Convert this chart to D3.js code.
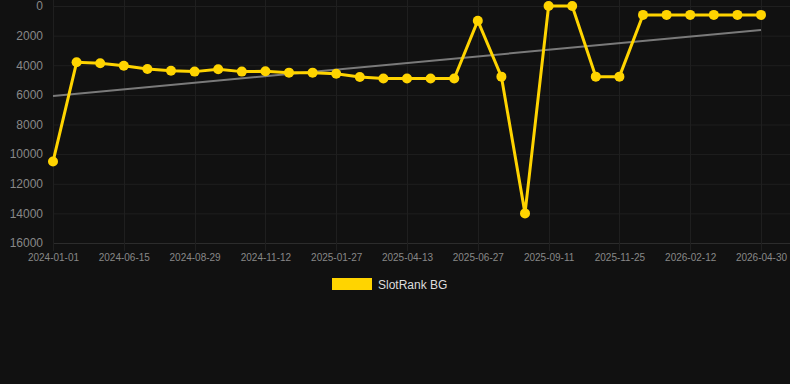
<!DOCTYPE html>
<html><head><meta charset="utf-8">
<script src="https://cdn.jsdelivr.net/npm/d3@7"></script>
<style>
html,body{margin:0;padding:0;background:#111111;}
svg{display:block;}
</style></head>
<body>
<svg id="chart" width="790" height="384"></svg>
<script>
const dates = ["2024-01-01","2024-05-16","2024-05-31","2024-06-15","2024-07-10","2024-08-04","2024-08-29","2024-09-23","2024-10-18","2024-11-12","2024-12-07","2025-01-02","2025-01-27","2025-02-21","2025-03-19","2025-04-13","2025-05-08","2025-06-02","2025-06-27","2025-07-22","2025-08-17","2025-09-11","2025-10-06","2025-10-31","2025-11-25","2025-12-21","2026-01-17","2026-02-12","2026-03-09","2026-04-04","2026-04-30"];
const rankValues = [10500,3800,3870,4030,4250,4370,4430,4270,4430,4410,4500,4500,4570,4790,4900,4900,4900,4900,990,4770,14000,0,0,4770,4770,600,600,600,600,600,600];
const trendValues = [6080,1620];
const yTicks = [0,2000,4000,6000,8000,10000,12000,14000,16000];
const seriesName = "SlotRank BG";

const svg = d3.select("#chart");
const mLeft = 53, mRight = 761, mTop = 6, mBottom = 243, gridRight = 790;
const x = d3.scalePoint().domain(dates).range([mLeft, mRight]);
const y = d3.scaleLinear().domain([0,16000]).range([mTop, mBottom]);
const tickDates = dates.filter((d,i)=> i % 3 === 0);
const font = "'Liberation Sans', Arial, Helvetica, sans-serif";

// grid
const grid = svg.append("g");
grid.selectAll(".hg").data(yTicks).join("line")
  .attr("x1", mLeft).attr("x2", gridRight)
  .attr("y1", d=>y(d)+0.5).attr("y2", d=>y(d)+0.5)
  .attr("stroke", d=> d===16000 ? "#2c2c2c" : "#1f1f1f").attr("stroke-width",1);
grid.selectAll(".vg").data(tickDates).join("line")
  .attr("x1", d=>Math.round(x(d))+0.5).attr("x2", d=>Math.round(x(d))+0.5)
  .attr("y1", 0).attr("y2", mBottom+8)
  .attr("stroke", "#1f1f1f").attr("stroke-width",1);

// y axis
const yAxis = d3.axisLeft(y).tickValues(yTicks).tickSize(0).tickPadding(10).tickFormat(d3.format("d"));
const ga = svg.append("g").attr("transform",`translate(${mLeft},0)`).call(yAxis);
ga.select(".domain").remove();
ga.selectAll("text").attr("fill","#888888").style("font-family",font).style("font-size","12px");

// x axis
const xAxis = d3.axisBottom(x).tickValues(tickDates).tickSize(0).tickPadding(11);
const gx = svg.append("g").attr("transform",`translate(0,${mBottom})`).call(xAxis);
gx.select(".domain").remove();
gx.selectAll("text").attr("fill","#888888").style("font-family",font).style("font-size","10px");

// trend line
svg.append("line")
  .attr("x1", x(dates[0])).attr("y1", y(trendValues[0]))
  .attr("x2", x(dates[dates.length-1])).attr("y2", y(trendValues[1]))
  .attr("stroke","#7a7a7a").attr("stroke-width",2);

// series line
const line = d3.line().x((d,i)=>x(dates[i])).y(d=>y(d));
svg.append("path").datum(rankValues)
  .attr("d", line).attr("fill","none")
  .attr("stroke","#ffd400").attr("stroke-width",3).attr("stroke-linejoin","miter");

svg.append("g").selectAll("circle").data(rankValues).join("circle")
  .attr("cx",(d,i)=>x(dates[i])).attr("cy",d=>y(d)).attr("r",5)
  .attr("fill","#ffd400");

// legend
const lg = svg.append("g");
lg.append("rect").attr("x",332).attr("y",278).attr("width",40).attr("height",12).attr("fill","#ffd400");
lg.append("text").attr("x",378).attr("y",288.5).text(seriesName)
  .attr("fill","#dddddd").style("font-family",font).style("font-size","12px");
</script>
</body></html>
